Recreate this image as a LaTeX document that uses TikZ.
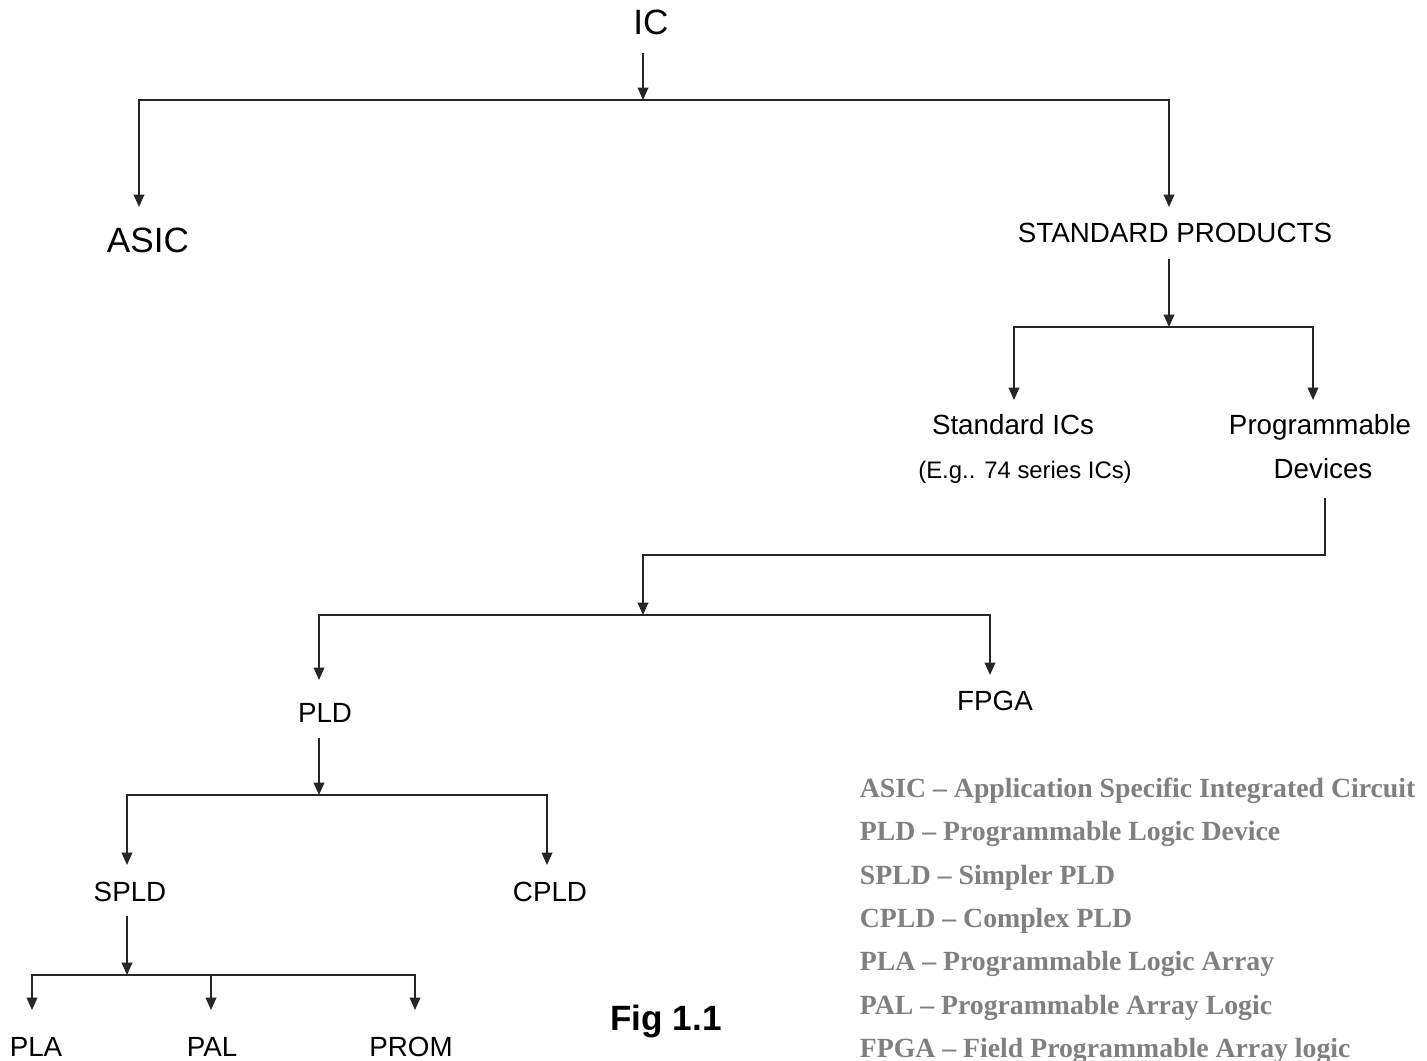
\documentclass[tikz,border=0pt]{standalone}
\usepackage{fontspec}
\usepackage{tikz}
\usetikzlibrary{arrows.meta,calc}
\newfontfamily\arialfont{Liberation Sans}
\newfontfamily\romanfont{Liberation Serif}
\definecolor{legendgray}{RGB}{128,128,128}
\tikzset{
  lbl/.style={font=\arialfont\fontsize{15.8}{18}\selectfont,anchor=base,inner sep=0pt},
  biglbl/.style={lbl,font=\arialfont\fontsize{20}{24}\selectfont},
  smalllbl/.style={lbl,font=\arialfont\fontsize{13.6}{16}\selectfont},
  legend/.style={font=\romanfont\bfseries\fontsize{15.8}{18}\selectfont,text=legendgray,anchor=base west,inner sep=0pt},
  arr/.style={-{Triangle[width=6pt,length=7pt]}},
}
\begin{document}
\begin{tikzpicture}[x=0.02cm,y=-0.02cm,line width=1pt,draw=black!85]
\useasboundingbox (0,0) rectangle (1427,1061);
% labels of the tree
\node[biglbl] (ic) at (651,35) {IC};
\node[biglbl] (asic) at (148,252) {ASIC};
\node[lbl] (std) at (1175,242) {STANDARD PRODUCTS};
\node[lbl] (sics) at (1013,434) {Standard ICs};
\node[smalllbl] (eg) at (1025,478) {(E.g.. 74 series ICs)};
\node[lbl] (prog) at (1320,434) {Programmable};
\node[lbl] (dev) at (1323,478) {Devices};
\node[lbl] (pld) at (325,722) {PLD};
\node[lbl] (fpga) at (995,710) {FPGA};
\node[lbl] (spld) at (130,901) {SPLD};
\node[lbl] (cpld) at (550,901) {CPLD};
\node[lbl] (pla) at (36,1056) {PLA};
\node[lbl] (pal) at (212,1056) {PAL};
\node[lbl] (prom) at (411,1056) {PROM};
\node[lbl,font=\arialfont\bfseries\fontsize{20}{24}\selectfont] (fig) at (666,1030) {Fig 1.1};
% junctions and arrow tips
\coordinate (j1) at (643,100);
\coordinate (j2) at (1169,327);
\coordinate (j3) at (643,615);
\coordinate (j4) at (319,795);
\coordinate (j5) at (127,975);
\coordinate (tasic) at (139,207);
\coordinate (tstd) at (1169,207);
\coordinate (tsics) at (1014,400);
\coordinate (tprog) at (1313,400);
\coordinate (tpld) at (319,680);
\coordinate (tfpga) at (990,675);
\coordinate (tspld) at (127,865);
\coordinate (tcpld) at (547,865);
\coordinate (tpla) at (32,1010);
\coordinate (tpal) at (211,1010);
\coordinate (tprom) at (415,1010);
% connectors
\draw[arr] ($(ic.south -| j1)+(0,17)$) -- (j1);
\draw[arr] (j1) -| (tasic);
\draw[arr] (j1) -| (tstd);
\draw[arr] ($(std.south -| j2)+(0,16)$) -- (j2);
\draw[arr] (j2) -| (tsics);
\draw[arr] (j2) -| (tprog);
\draw[arr] ($(dev.south)+(2,19)$) |- ($(j3)+(0,-60)$) -- (j3);
\draw[arr] (j3) -| (tpld);
\draw[arr] (j3) -| (tfpga);
\draw[arr] ($(pld.south -| j4)+(0,15)$) -- (j4);
\draw[arr] (j4) -| (tspld);
\draw[arr] (j4) -| (tcpld);
\draw[arr] ($(spld.south -| j5)+(0,14)$) -- (j5);
\draw[arr] (j5) -| (tpla);
\draw[arr] (j5) -| (tpal);
\draw[arr] (j5) -| (tprom);
% legend
\node[legend] (leg1) at (859,797) {ASIC – Application Specific Integrated Circuit};
\node[legend] (leg2) at (859,840.5) {PLD – Programmable Logic Device};
\node[legend] (leg3) at (859,884) {SPLD – Simpler PLD};
\node[legend] (leg4) at (859,927) {CPLD – Complex PLD};
\node[legend] (leg5) at (859,970.5) {PLA – Programmable Logic Array};
\node[legend] (leg6) at (859,1014) {PAL – Programmable Array Logic};
\node[legend] (leg7) at (859,1057) {FPGA – Field Programmable Array logic};
\end{tikzpicture}
\end{document}
